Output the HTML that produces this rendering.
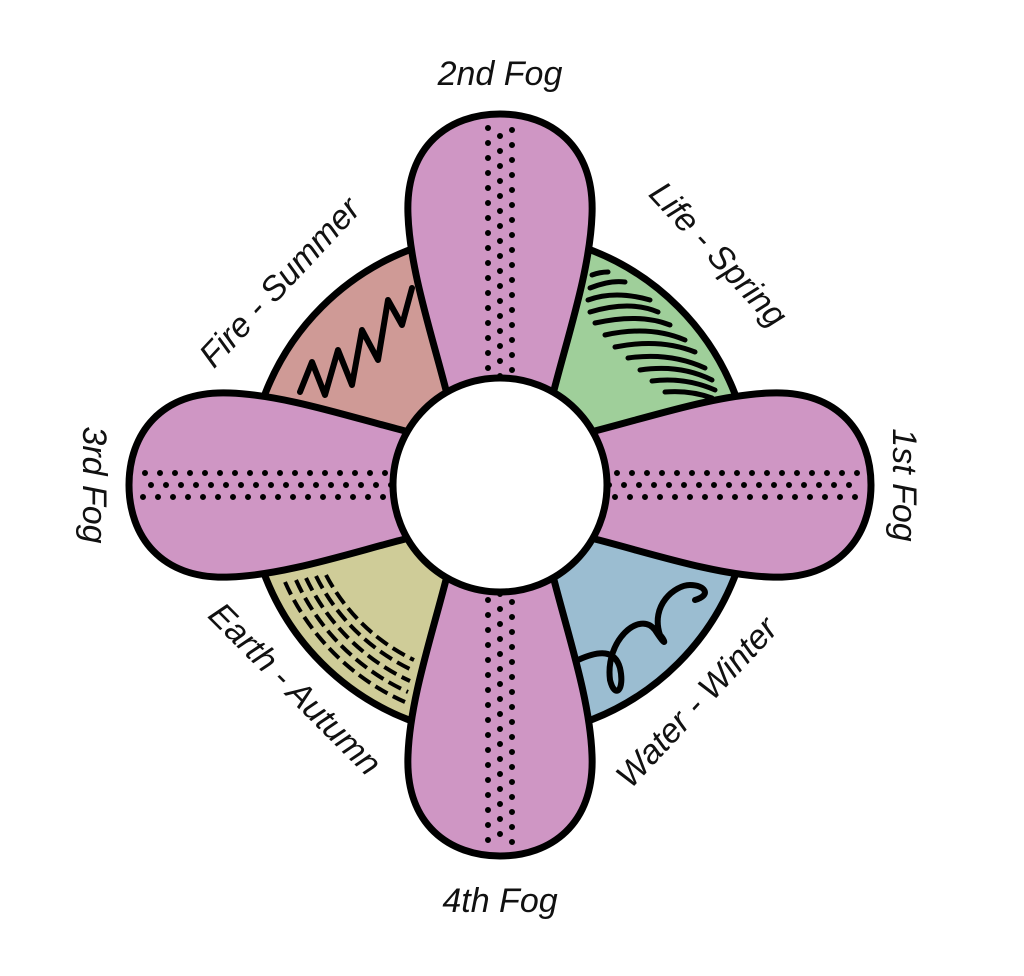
<!DOCTYPE html>
<html><head><meta charset="utf-8"><style>
html,body{margin:0;padding:0;background:#fff;}
svg{display:block;}
text{font-family:"Liberation Sans",sans-serif;font-style:italic;font-size:34px;fill:#111;}
</style></head><body>
<svg width="1024" height="976" viewBox="0 0 1024 976" xmlns="http://www.w3.org/2000/svg">
<defs>
<clipPath id="cc"><circle cx="500" cy="485" r="252"/></clipPath>
<g id="petal">
<path d="M447,394 C432,335 410,270 408,215 C405,145 450,114 500,114 C550,114 595,145 592,215 C590,270 568,335 553,394 Z" fill="#cf96c4" stroke="#000" stroke-width="7"/>
<line x1="488" y1="128" x2="488" y2="385" stroke="#000" stroke-width="6" stroke-linecap="round" stroke-dasharray="0 15"/>
<line x1="500" y1="136" x2="500" y2="385" stroke="#000" stroke-width="6" stroke-linecap="round" stroke-dasharray="0 15"/>
<line x1="512" y1="130" x2="512" y2="385" stroke="#000" stroke-width="6" stroke-linecap="round" stroke-dasharray="0 15"/>
</g>
</defs>
<g clip-path="url(#cc)">
<rect x="240" y="225" width="260" height="260" fill="#cf9a96"/>
<rect x="500" y="225" width="260" height="260" fill="#9fcf9a"/>
<rect x="240" y="485" width="260" height="260" fill="#cfcc98"/>
<rect x="500" y="485" width="260" height="260" fill="#9bbdd1"/>
</g>
<circle cx="500" cy="485" r="252" fill="none" stroke="#000" stroke-width="7"/>
<polyline points="300,392 312,362 325,395 338,350 352,385 362,330 378,360 388,300 402,325 412,288" fill="none" stroke="#000" stroke-width="6" stroke-linejoin="round" stroke-linecap="round"/>
<g stroke="#000" stroke-width="5" stroke-linecap="round" fill="none">
<path d="M592,275 Q600,272 608,272"/>
<path d="M590,288 Q610,280 625,282"/>
<path d="M588,300 Q615,290 650,300"/>
<path d="M590,312 Q630,300 658,312"/>
<path d="M595,323 Q640,313 670,325"/>
<path d="M605,335 Q650,325 685,340"/>
<path d="M615,347 Q660,338 695,352"/>
<path d="M628,358 Q670,352 705,368"/>
<path d="M640,370 Q680,364 712,380"/>
<path d="M652,381 Q685,377 715,390"/>
<path d="M665,392 Q690,390 712,398"/>
</g>
<g stroke="#000" stroke-width="4" fill="none" stroke-dasharray="14 6">
<path d="M285,582 A236,236 0 0 0 405,702"/>
<path d="M296,580 A225,225 0 0 0 408,692"/>
<path d="M306,578 A214,214 0 0 0 410,681"/>
<path d="M316,576 A204,204 0 0 0 412,670"/>
<path d="M326,575 A194,194 0 0 0 414,660"/>
</g>
<path d="M578,660 C600,650 615,650 620,668 C625,690 615,700 610,680 C605,640 640,610 655,630 C668,650 665,640 660,635 C650,605 675,585 690,585 C705,585 712,595 695,600" fill="none" stroke="#000" stroke-width="6" stroke-linecap="round"/>
<use href="#petal"/>
<use href="#petal" transform="rotate(90 500 485)"/>
<use href="#petal" transform="rotate(180 500 485)"/>
<use href="#petal" transform="rotate(270 500 485)"/>
<circle cx="500" cy="485" r="107" fill="#fff" stroke="#000" stroke-width="7"/>
<text x="500" y="85" text-anchor="middle">2nd Fog</text>
<text x="500" y="912" text-anchor="middle">4th Fog</text>
<text transform="translate(893,485) rotate(90)" text-anchor="middle">1st Fog</text>
<text transform="translate(83,485) rotate(90)" text-anchor="middle">3rd Fog</text>
<text transform="translate(288,290) rotate(-47)" text-anchor="middle">Fire - Summer</text>
<text transform="translate(710,262) rotate(47)" text-anchor="middle">Life - Spring</text>
<text transform="translate(705,710) rotate(-47)" text-anchor="middle">Water - Winter</text>
<text transform="translate(287,697) rotate(45)" text-anchor="middle">Earth - Autumn</text>
</svg>
</body></html>
